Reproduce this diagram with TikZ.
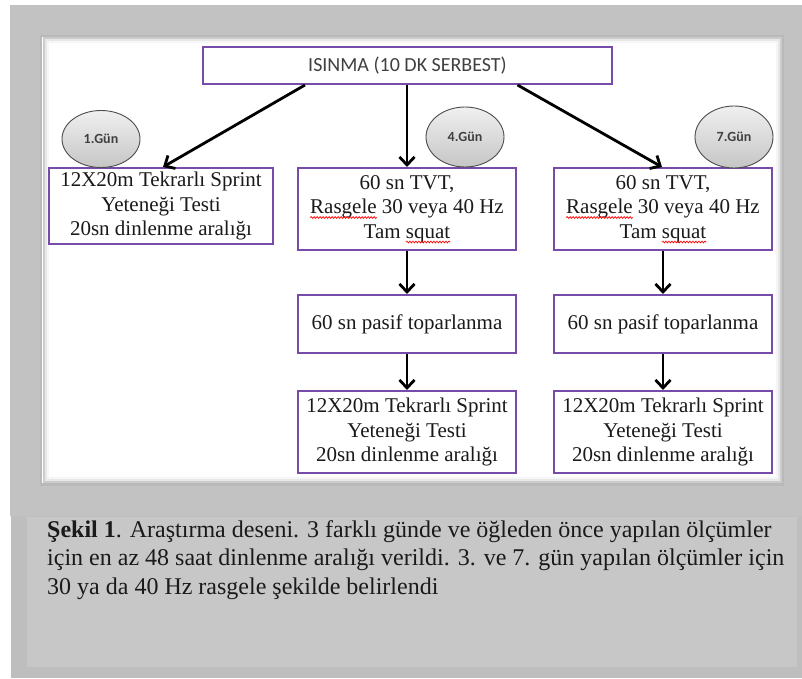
\documentclass[tikz,border=0pt]{standalone}
\usepackage{fontspec}
\setmainfont{Liberation Serif}
\newfontfamily\calib{Carlito}
\usetikzlibrary{arrows.meta,shapes.geometric,decorations.pathmorphing}
\definecolor{framegray}{HTML}{C2C2C2}
\definecolor{capgray}{HTML}{C7C7C7}
\definecolor{boxpurple}{RGB}{118,76,168}
\definecolor{txt}{HTML}{1A1A1A}
\newcommand\boxfont{\fontsize{21}{24.5}\selectfont}
\newlength\wRas \newlength\wLineTwo \newlength\wTam \newlength\wLineThree \newlength\wSquat
\tikzset{
  flowbox/.style={draw=boxpurple, line width=2pt, fill=white, align=center,
    text=txt, font=\boxfont, inner sep=0pt},
  daybubble/.style={ellipse, draw=gray!60!black, line width=0.9pt,
    top color=gray!12, bottom color=gray!45, text=black!75,
    font=\calib\bfseries\fontsize{14}{16}\selectfont, inner sep=0pt},
  flowarrow/.style={line width=2.8pt, -{Straight Barb[length=8pt,width=15pt]}},
  captext/.style={anchor=base west, inner sep=0pt, text=txt,
    font=\fontsize{24}{28}\selectfont},
  spellmark/.style={red, line width=0.7pt, decorate,
    decoration={snake, amplitude=0.9pt, segment length=3pt}}
}
\begin{document}
\settowidth\wRas{\boxfont Rasgele}%
\settowidth\wLineTwo{\boxfont Rasgele 30 veya 40 Hz}%
\settowidth\wTam{\boxfont Tam }%
\settowidth\wLineThree{\boxfont Tam squat}%
\settowidth\wSquat{\boxfont squat}%
\pgfmathsetmacro\ras{\wRas}%
\pgfmathsetmacro\lineTwo{\wLineTwo}%
\pgfmathsetmacro\tam{\wTam}%
\pgfmathsetmacro\lineThree{\wLineThree}%
\pgfmathsetmacro\sqw{\wSquat}%
\begin{tikzpicture}[x=1pt,y=-1pt]
\useasboundingbox (0,0) rectangle (802,679);
\fill[white] (0,0) rectangle (802,679);
% outer gray frame
\fill[framegray] (10,5) rectangle (802,516);
% caption area
\fill[framegray!98!black] (11,516) rectangle (802,678);
\fill[capgray] (27,517) rectangle (797,667);
% white panel with inner shadow
\fill[gray!55] (40,35) rectangle (784,486);
\fill[white] (42,37) rectangle (782,483);
\draw[gray!40, line width=2pt] (43.5,38.5) rectangle (780.5,481.5);
\draw[gray!18, line width=2pt] (45.5,40.5) rectangle (778.5,479.5);
\draw[gray!7, line width=2pt] (47.5,42.5) rectangle (776.5,477.5);

% nodes
\node[flowbox, minimum width=409pt, minimum height=37pt, text=black!75,
      font=\calib\fontsize{20}{24}\selectfont] (isin) at (407.5,65.5) {ISINMA (10 DK SERBEST)};

\node[flowbox, minimum width=224pt, minimum height=76pt] (b1) at (161,206)
  {12X20m Tekrarlı Sprint\\Yeteneği Testi\\20sn dinlenme aralığı};

\node[flowbox, minimum width=218pt, minimum height=82pt] (m1) at (407,209)
  {60 sn TVT,\\Rasgele 30 veya 40 Hz\\Tam squat};
\node[flowbox, minimum width=218pt, minimum height=82pt] (r1) at (663,209)
  {60 sn TVT,\\Rasgele 30 veya 40 Hz\\Tam squat};

\node[flowbox, minimum width=218pt, minimum height=58pt] (m2) at (407,324) {60 sn pasif toparlanma};
\node[flowbox, minimum width=218pt, minimum height=58pt] (r2) at (663,324) {60 sn pasif toparlanma};

\node[flowbox, minimum width=218pt, minimum height=82pt] (m3) at (407,432)
  {12X20m Tekrarlı Sprint\\Yeteneği Testi\\20sn dinlenme aralığı};
\node[flowbox, minimum width=218pt, minimum height=82pt] (r3) at (663,432)
  {12X20m Tekrarlı Sprint\\Yeteneği Testi\\20sn dinlenme aralığı};

\node[daybubble, minimum width=78pt, minimum height=57pt] (g1) at (101,139) {1.Gün};
\node[daybubble, minimum width=78pt, minimum height=60pt] (g4) at (465,137) {4.Gün};
\node[daybubble, minimum width=78pt, minimum height=62pt] (g7) at (734,137) {7.Gün};

% spell-check underlines
\path (m1.center) ++(-\lineTwo/2, 8.5) coordinate (m1a) ++(\ras, 0) coordinate (m1b);
\path (m1.center) ++(-\lineThree/2+\tam, 33) coordinate (m1c) ++(\sqw, 0) coordinate (m1d);
\path (r1.center) ++(-\lineTwo/2, 8.5) coordinate (r1a) ++(\ras, 0) coordinate (r1b);
\path (r1.center) ++(-\lineThree/2+\tam, 33) coordinate (r1c) ++(\sqw, 0) coordinate (r1d);
\draw[spellmark] (m1a) -- (m1b);
\draw[spellmark] (m1c) -- (m1d);
\draw[spellmark] (r1a) -- (r1b);
\draw[spellmark] (r1c) -- (r1d);

% connectors
\draw[flowarrow] ([xshift=-102.5pt]isin.south) -- ([xshift=2pt]b1.north);
\draw[flowarrow] (isin.south -| m1.north) -- (m1.north);
\draw[flowarrow] ([xshift=110pt]isin.south) -- ([xshift=-1pt]r1.north);
\draw[flowarrow] (m1.south) -- (m2.north);
\draw[flowarrow] (m2.south) -- (m3.north);
\draw[flowarrow] (r1.south) -- (r2.north);
\draw[flowarrow] (r2.south) -- (r3.north);

% caption
\node[captext] (cap1) at (47,537) {\textbf{Şekil 1}. Araştırma deseni. 3 farklı günde ve öğleden önce yapılan ölçümler};
\node[captext] (cap2) at (47,565.5) {için en az 48 saat dinlenme aralığı verildi. 3. ve 7. gün yapılan ölçümler için};
\node[captext] (cap3) at (47,594) {30 ya da 40 Hz rasgele şekilde belirlendi};
\end{tikzpicture}
\end{document}
